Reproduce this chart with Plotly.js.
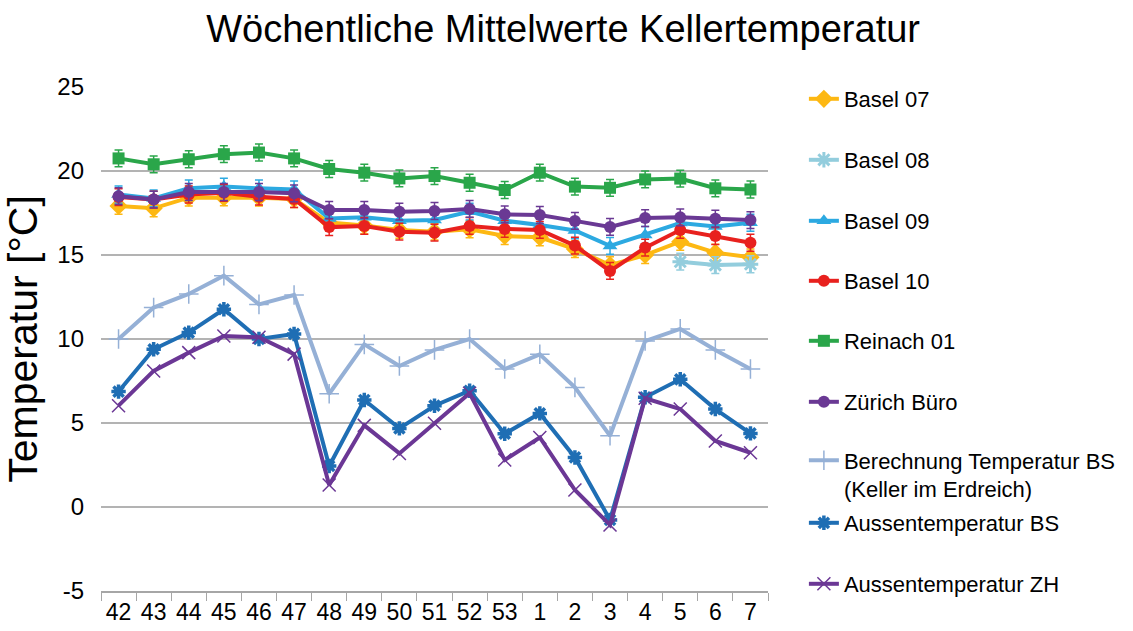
<!DOCTYPE html>
<html><head><meta charset="utf-8">
<script src="https://cdn.plot.ly/plotly-3.0.1.min.js"></script>
<style>html,body{margin:0;padding:0;background:#fff;}#chart{width:1133px;height:631px;}</style>
</head><body><div id="chart"></div>
<script>
const weeks = ['42','43','44','45','46','47','48','49','50','51','52','53','1','2','3','4','5','6','7'];
const yTickValues = [-5,0,5,10,15,20,25];
const yTickLabels = ['-5','0','5','10','15','20','25'];
const basel07 = [17.92,17.78,18.41,18.43,18.41,18.33,16.93,16.75,16.49,16.39,16.53,16.13,16.05,15.35,14.4,15.0,15.79,15.14,14.86];
const basel08 = [null,null,null,null,null,null,null,null,null,null,null,null,null,null,null,null,14.6,14.4,14.45];
const basel09 = [18.6,18.37,18.97,19.07,18.97,18.9,17.18,17.24,17.04,17.08,17.58,17.04,16.79,16.46,15.54,16.19,16.9,16.7,16.92];
const basel10 = [18.45,18.3,18.6,18.7,18.47,18.33,16.66,16.73,16.39,16.33,16.73,16.55,16.49,15.56,14.05,15.44,16.49,16.13,15.73];
const reinach01 = [20.75,20.4,20.7,21.0,21.1,20.75,20.12,19.9,19.56,19.7,19.3,18.87,19.9,19.07,19.0,19.5,19.55,18.97,18.9];
const zuerichBuero = [18.5,18.3,18.75,18.75,18.75,18.67,17.68,17.68,17.58,17.62,17.74,17.42,17.38,17.03,16.67,17.2,17.24,17.16,17.08];
const berechnungBS = [10.0,11.87,12.68,13.77,12.06,12.62,6.74,9.68,8.39,9.35,10.0,8.21,9.09,7.12,4.24,9.88,10.6,9.35,8.21];
const aussenBS = [6.87,9.39,10.38,11.77,10.0,10.3,2.44,6.37,4.68,6.03,6.92,4.36,5.57,2.95,-0.77,6.53,7.6,5.83,4.38];
const aussenZH = [6.03,8.1,9.19,10.18,10.1,9.1,1.31,4.86,3.19,4.98,6.77,2.8,4.14,1.01,-1.07,6.47,5.83,3.93,3.23];
const names = ['Basel 07','Basel 08','Basel 09','Basel 10','Reinach 01','Zürich Büro','Berechnung Temperatur BS<br>(Keller im Erdreich)','Aussentemperatur BS','Aussentemperatur ZH'];

const F = 'Liberation Sans, Arial, sans-serif';
function err(c){return {type:'constant',value:0.5,color:c,thickness:1.5,width:4};}
function tr(y,name,color,sym,size,lw,leg,eb,mline){
  const t = {x:weeks,y:y,name:name,type:'scatter',mode:'lines+markers',legend:leg,
    line:{color:color,width:lw},
    marker:{symbol:sym,size:size,color:color,line:{color:color,width:mline||0}}};
  if(eb) t.error_y = err(color);
  return t;
}
const data = [
  tr(basel07,names[0],'#FDB813','diamond',14,4,'legend',true),
  tr(basel08,names[1],'#93CDDD','asterisk-open',13,4,'legend2',true,3),
  tr(basel09,names[2],'#2CA9E1','triangle-up',13,4,'legend3',true),
  tr(basel10,names[3],'#E8211E','circle',12,4,'legend4',true),
  tr(reinach01,names[4],'#2AA64A','square',12,4,'legend5',true),
  tr(zuerichBuero,names[5],'#6A3994','circle',12,4,'legend6',true),
  tr(berechnungBS,names[6],'#95B0D6','cross-thin-open',14,4,'legend7',false,1.5),
  tr(aussenBS,names[7],'#1F6EB4','asterisk-open',12,4,'legend8',false,3.5),
  tr(aussenZH,names[8],'#6B3795','x-thin-open',13,4,'legend9',false,1.5)
];
const centers = [99,160,221,281,341,402,475,523,584];
const layout = {
  width:1133,height:631,
  margin:{l:101,r:363,t:87,b:40},
  paper_bgcolor:'#fff',plot_bgcolor:'#fff',
  font:{family:F,color:'#000'},
  title:{text:'Wöchentliche Mittelwerte Kellertemperatur',font:{family:F,size:38,color:'#000'},x:0.497,xref:'container',xanchor:'center',y:0.955,yref:'container',yanchor:'middle'},
  xaxis:{type:'category',range:[-0.5,18.5],showgrid:false,zeroline:false,showline:true,linecolor:'#A6A6A6',linewidth:1.5,
    ticks:'outside',tickson:'boundaries',ticklen:8,tickcolor:'#A6A6A6',tickwidth:1,tickfont:{family:F,size:23,color:'#000'}},
  yaxis:{range:[-5,25],tickmode:'array',tickvals:yTickValues,ticktext:yTickLabels,showgrid:true,gridcolor:'#B3B3B3',gridwidth:1.5,zeroline:false,showline:false,
    ticks:'',ticklabelstandoff:16,tickfont:{family:F,size:24,color:'#000'},
    title:{text:'Temperatur [°C]',font:{family:F,size:41,color:'#000'},standoff:10}},
  showlegend:true
};
const lkeys = ['legend','legend2','legend3','legend4','legend5','legend6','legend7','legend8','legend9'];
lkeys.forEach((k,i)=>{
  layout[k] = {x:(806-101)/669,xanchor:'left',y:(591-centers[i])/504,yanchor:'middle',
    font:{family:F,size:22,color:'#000'},bgcolor:'rgba(0,0,0,0)',borderwidth:0,valign:'top',itemwidth:30};
});
Plotly.newPlot('chart',data,layout,{staticPlot:true,displayModeBar:false});
</script></body></html>
